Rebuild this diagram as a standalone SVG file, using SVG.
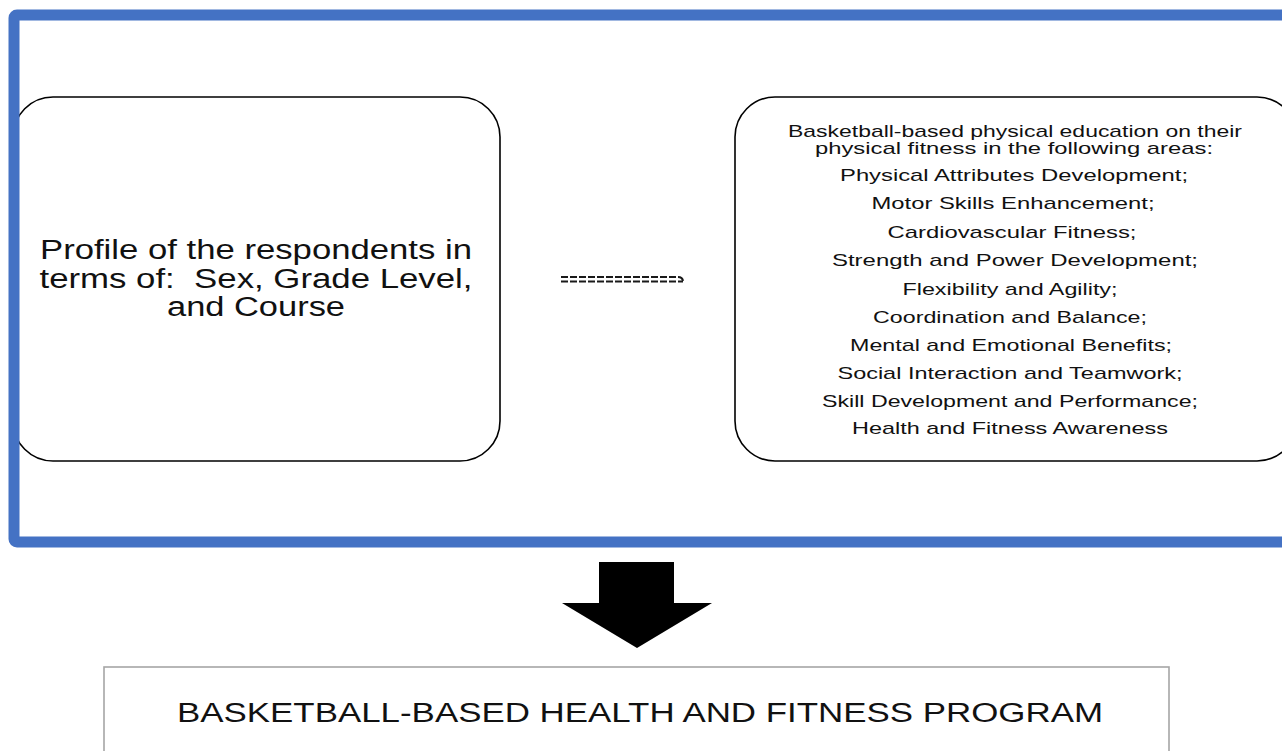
<svg xmlns="http://www.w3.org/2000/svg" width="1282" height="751" viewBox="0 0 1282 751">
<style>
.box{fill:#fff;stroke:#000;stroke-width:1.6}
.t{font-family:"Liberation Sans",Arial,sans-serif;fill:#111;text-anchor:middle}
.big{font-size:27px}
.sm{font-size:17px}
.dash{fill:none;stroke:#1a1a1a;stroke-width:2.2;stroke-dasharray:7 2}
</style>
<rect width="1282" height="751" fill="#fff"/>
<g id="profile">
<rect class="box" x="13" y="97" width="487" height="364" rx="40" ry="40"/>
<text class="t big" x="256" y="259" textLength="432" lengthAdjust="spacingAndGlyphs">Profile of the respondents in</text>
<text class="t big" x="256" y="288" textLength="433" lengthAdjust="spacingAndGlyphs" xml:space="preserve">terms of:  Sex, Grade Level,</text>
<text class="t big" x="256" y="316" textLength="178" lengthAdjust="spacingAndGlyphs">and Course</text>
</g>
<g id="areas">
<rect class="box" x="735" y="97" width="562" height="364" rx="40" ry="40"/>
<text class="t sm" x="1015" y="137" textLength="454" lengthAdjust="spacingAndGlyphs">Basketball-based physical education on their</text>
<text class="t sm" x="1014" y="154" textLength="398" lengthAdjust="spacingAndGlyphs">physical fitness in the following areas:</text>
<text class="t sm" x="1014" y="181" textLength="348" lengthAdjust="spacingAndGlyphs">Physical Attributes Development;</text>
<text class="t sm" x="1013" y="209" textLength="283" lengthAdjust="spacingAndGlyphs">Motor Skills Enhancement;</text>
<text class="t sm" x="1012" y="238" textLength="249" lengthAdjust="spacingAndGlyphs">Cardiovascular Fitness;</text>
<text class="t sm" x="1015" y="266" textLength="366" lengthAdjust="spacingAndGlyphs">Strength and Power Development;</text>
<text class="t sm" x="1010" y="295" textLength="215" lengthAdjust="spacingAndGlyphs">Flexibility and Agility;</text>
<text class="t sm" x="1010" y="323" textLength="274" lengthAdjust="spacingAndGlyphs">Coordination and Balance;</text>
<text class="t sm" x="1011" y="351" textLength="322" lengthAdjust="spacingAndGlyphs">Mental and Emotional Benefits;</text>
<text class="t sm" x="1010" y="379" textLength="345" lengthAdjust="spacingAndGlyphs">Social Interaction and Teamwork;</text>
<text class="t sm" x="1010" y="407" textLength="376" lengthAdjust="spacingAndGlyphs">Skill Development and Performance;</text>
<text class="t sm" x="1010" y="434" textLength="316" lengthAdjust="spacingAndGlyphs">Health and Fitness Awareness</text>
</g>
<g id="frame">
<rect x="14" y="15" width="1300" height="527" rx="3" ry="3" fill="none" stroke="#4472C4" stroke-width="11"/>
</g>
<g id="connectors">
<path class="dash" d="M561,277 H678 Q683,277 683,282"/>
<path class="dash" d="M561,281.5 H683"/>
<polygon points="599,562 674,562 674,603 712,603 637,648 562,603 599,603" fill="#000"/>
</g>
<g id="program">
<rect x="104" y="667" width="1065" height="110" fill="#fff" stroke="#a6a6a6" stroke-width="1.6"/>
<text class="t big" x="640" y="722" textLength="926" lengthAdjust="spacingAndGlyphs">BASKETBALL-BASED HEALTH AND FITNESS PROGRAM</text>
</g>
</svg>
